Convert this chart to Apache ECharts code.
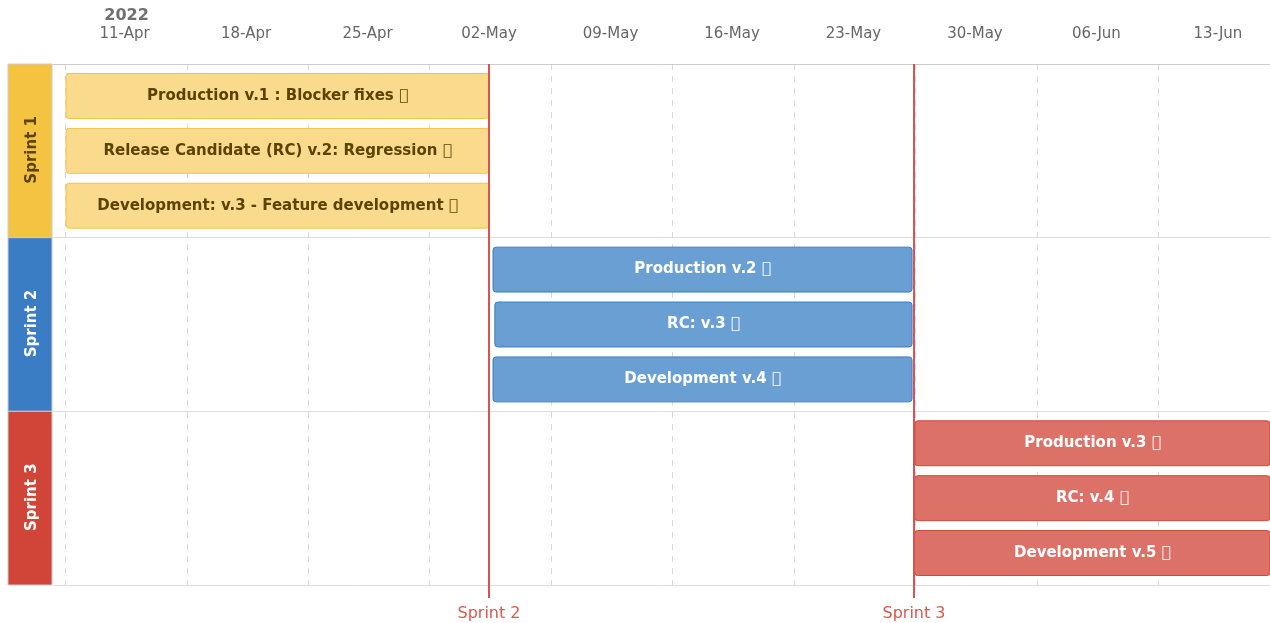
<!DOCTYPE html>
<html>
<head>
<meta charset="utf-8">
<script src="https://cdn.jsdelivr.net/npm/echarts@6/dist/echarts.min.js"></script>
<style>
  html, body { margin: 0; padding: 0; background: #fff; }
  #chart { width: 1270px; height: 623px; }
</style>
</head>
<body>
<div id="chart"></div>
<script>
// icon glyph from a missing icon font, shows as a box
const ICON = '\uf0c2';

const sprints = ['Sprint 1', 'Sprint 2', 'Sprint 3'];
const sprintColors = ['#f5c342', '#3b7dc5', '#d04537'];
const barColors = ['#fada8c', '#6a9fd4', '#dc7168'];
const textColors = ['#5c4300', '#ffffff', '#ffffff'];

const taskNames = [
  'Production v.1 : Blocker fixes',
  'Release Candidate (RC) v.2: Regression',
  'Development: v.3 - Feature development',
  'Production v.2',
  'RC: v.3',
  'Development v.4',
  'Production v.3',
  'RC: v.4',
  'Development v.5'
];
const taskSprint = [0, 0, 0, 1, 1, 1, 2, 2, 2];
const taskLane = [0, 1, 2, 0, 1, 2, 0, 1, 2];
const taskStart = [
  '2022-04-07T15:00', '2022-04-07T15:00', '2022-04-07T15:00',
  '2022-05-02T05:30', '2022-05-02T08:00', '2022-05-02T05:30',
  '2022-05-26T13:00', '2022-05-26T12:30', '2022-05-26T12:30'
];
const taskEnd = [
  '2022-05-02T00:00', '2022-05-02T00:00', '2022-05-02T00:00',
  '2022-05-26T09:00', '2022-05-26T09:00', '2022-05-26T09:00',
  '2022-06-20T00:00', '2022-06-20T00:00', '2022-06-20T00:00'
];

const milestoneNames = ['Sprint 2', 'Sprint 3'];
const milestoneDates = ['2022-05-02T00:00', '2022-05-26T12:00'];

const labelDates = ['2022-04-11', '2022-04-18', '2022-04-25', '2022-05-02', '2022-05-09',
  '2022-05-16', '2022-05-23', '2022-05-30', '2022-06-06', '2022-06-13'];
const gridDates = ['2022-04-07T14:00', '2022-04-14T14:00', '2022-04-21T14:00', '2022-04-28T14:00',
  '2022-05-05T14:00', '2022-05-12T14:00', '2022-05-19T14:00', '2022-05-26T14:00',
  '2022-06-02T14:00', '2022-06-09T14:00'];
const axisMin = '2022-04-06T21:00';
const axisMax = '2022-06-16T00:00';

const MONTHS = ['Jan', 'Feb', 'Mar', 'Apr', 'May', 'Jun', 'Jul', 'Aug', 'Sep', 'Oct', 'Nov', 'Dec'];
const FONT = '"DejaVu Sans", sans-serif';
const DAY = 86400000;
const BASE = Date.UTC(2022, 3, 11);

// dates -> days since 11-Apr-2022 (value axis in days)
function day(s) {
  const t = new Date(s.length === 10 ? s + 'T00:00:00Z' : s + ':00Z').getTime();
  return (t - BASE) / DAY;
}

const taskData = taskNames.map((n, i) => [day(taskStart[i]), day(taskEnd[i]), taskSprint[i], taskLane[i]]);
const milestoneData = milestoneDates.map(d => [day(d), 0]);

function renderTask(params, api) {
  const i = params.dataIndex;
  const s = taskSprint[i];
  const p0 = api.coord([api.value(0), api.value(2)]);
  const p1 = api.coord([api.value(1), api.value(2)]);
  const band = api.size([0, 1])[1];
  const h = band * 45 / 174;
  const yc = p0[1] + (api.value(3) - 1) * band * 55 / 174;
  const cs = params.coordSys;
  const rect = echarts.graphic.clipRectByRect(
    { x: p0[0], y: yc - h / 2, width: p1[0] - p0[0], height: h },
    { x: cs.x, y: cs.y, width: cs.width, height: cs.height }
  );
  if (!rect) return;
  return {
    type: 'group',
    children: [
      {
        type: 'rect',
        shape: { x: rect.x, y: rect.y, width: rect.width, height: rect.height, r: 3 },
        style: { fill: barColors[s], stroke: sprintColors[s], lineWidth: 1 }
      },
      {
        type: 'text',
        x: rect.x + rect.width / 2,
        y: yc,
        style: {
          text: taskNames[i] + ' ' + ICON,
          fill: textColors[s],
          font: 'bold 15px ' + FONT,
          align: 'center',
          verticalAlign: 'middle'
        }
      }
    ]
  };
}

function renderMilestone(params, api) {
  const x = Math.round(api.coord([api.value(0), 0])[0]);
  const cs = params.coordSys;
  return {
    type: 'group',
    children: [
      {
        type: 'line',
        shape: { x1: x, y1: cs.y, x2: x, y2: cs.y + cs.height + 13 },
        style: { stroke: '#d9534f', lineWidth: 2 }
      },
      {
        type: 'text',
        x: x,
        y: cs.y + cs.height + 29,
        style: {
          text: milestoneNames[params.dataIndex],
          fill: '#e0554d',
          font: '16px ' + FONT,
          align: 'center',
          verticalAlign: 'middle'
        }
      }
    ]
  };
}

function renderSprintCell(params, api) {
  const i = params.dataIndex;
  const c = api.coord([0, api.value(0)]);
  const band = api.size([0, 1])[1];
  const cs = params.coordSys;
  return {
    type: 'group',
    children: [
      {
        type: 'rect',
        shape: { x: cs.x, y: c[1] - band / 2, width: cs.width, height: band },
        style: { fill: sprintColors[i], stroke: '#cccccc', lineWidth: 1 }
      },
      {
        type: 'text',
        x: cs.x + cs.width / 2 + 2,
        y: c[1] - 1,
        rotation: Math.PI / 2,
        style: {
          text: sprints[i],
          fill: textColors[i],
          font: 'bold 15px ' + FONT,
          align: 'center',
          verticalAlign: 'middle'
        }
      }
    ]
  };
}

function fmtDay(v) {
  const d = new Date(BASE + Math.round(v * DAY));
  return String(d.getUTCDate()).padStart(2, '0') + '-' + MONTHS[d.getUTCMonth()];
}

const chart = echarts.init(document.getElementById('chart'));

chart.setOption({
  animation: false,
  textStyle: { fontFamily: FONT },
  grid: [
    { left: 53, right: 0, top: 64, bottom: 38 },
    { left: 8, width: 44, top: 64, bottom: 38 }
  ],
  xAxis: [
    {
      type: 'value',
      gridIndex: 0,
      position: 'top',
      min: day(axisMin),
      max: day(axisMax),
      axisLine: { show: true, lineStyle: { color: '#cccccc' } },
      axisTick: { show: false, customValues: gridDates.map(day) },
      splitLine: { show: true, lineStyle: { color: '#d8d8d8', type: [6, 6] } },
      axisLabel: {
        customValues: labelDates.map(day),
        margin: 21,
        color: '#666666',
        fontSize: 15,
        formatter: (v) => {
          const txt = fmtDay(v);
          if (Math.abs(v - day(labelDates[0])) < 1e-6) return '{yr|2022}\n{d|' + txt + '}';
          return '{d|' + txt + '}';
        },
        rich: {
          yr: { fontSize: 16, fontWeight: 'bold', color: '#707070', lineHeight: 18, padding: [0, 0, 0, 4] },
          d: { fontSize: 15, color: '#666666', lineHeight: 18 }
        }
      }
    },
    {
      type: 'value',
      gridIndex: 1,
      min: 0,
      max: 1,
      show: false
    }
  ],
  yAxis: [
    {
      type: 'category',
      gridIndex: 0,
      data: sprints,
      inverse: true,
      axisLine: { show: false },
      axisTick: { show: false },
      axisLabel: { show: false },
      splitLine: { show: true, lineStyle: { color: '#dddddd' } }
    },
    {
      type: 'category',
      gridIndex: 1,
      data: sprints,
      inverse: true,
      show: false
    }
  ],
  series: [
    {
      type: 'custom',
      name: 'Sprints',
      xAxisIndex: 1,
      yAxisIndex: 1,
      renderItem: renderSprintCell,
      data: sprints.map((s, i) => [i]),
      encode: { y: 0 }
    },
    {
      type: 'custom',
      name: 'Tasks',
      xAxisIndex: 0,
      yAxisIndex: 0,
      renderItem: renderTask,
      data: taskData,
      encode: { x: [0, 1], y: 2 },
      z: 3
    },
    {
      type: 'custom',
      name: 'Milestones',
      xAxisIndex: 0,
      yAxisIndex: 0,
      clip: false,
      renderItem: renderMilestone,
      data: milestoneData,
      encode: { x: 0 },
      z: 5
    }
  ]
});
</script>
</body>
</html>
